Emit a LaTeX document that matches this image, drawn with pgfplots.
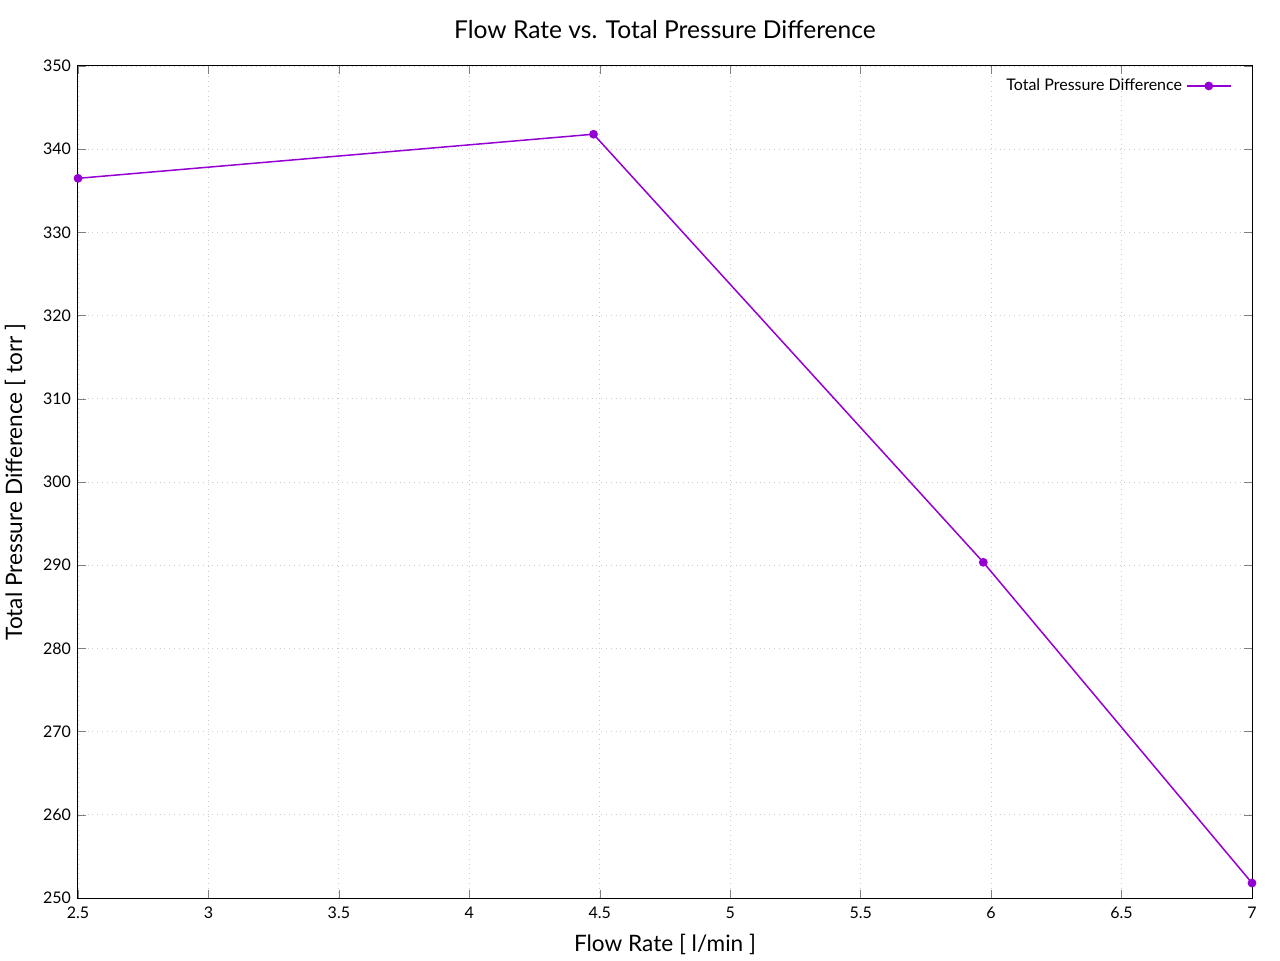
\documentclass[border=0pt]{standalone}
\usepackage{fontspec}
\setmainfont{Lato}
\usepackage{pgfplots}
\pgfplotsset{compat=1.18}
\definecolor{gpviolet}{HTML}{9400D3}
\begin{document}
\begin{tikzpicture}[x=1pt,y=1pt]
\path[use as bounding box] (0,0) rectangle (640,480);
\begin{axis}[
  at={(39pt,31pt)}, anchor=south west,
  scale only axis, width=587pt, height=416pt,
  xmin=2.5, xmax=7, ymin=250, ymax=350,
  xtick={2.5,3,...,7}, ytick={250,260,...,350},
  tick align=inside, major tick length=4pt,
  xtick pos=both, ytick pos=both,
  xticklabel pos=bottom, yticklabel pos=left,
  /pgf/number format/assume math mode=true,
  /pgf/number format/.cd, fixed, use period, 1000 sep={},
  /pgfplots/.cd,
  ticklabel style={font=\fontsize{8}{9.5}\selectfont},
  xticklabel style={yshift=-1pt},
  grid=major,
  major grid style={gray!40, dotted, line width=0.4pt},
  axis line style={black, line width=0.5pt},
  title={Flow Rate vs. Total Pressure Difference},
  title style={font=\fontsize{12.3}{14}\selectfont, yshift=4pt},
  xlabel={Flow Rate [ l/min ]},
  ylabel={Total Pressure Difference [ torr ]},
  label style={font=\fontsize{11.3}{13}\selectfont},
  xlabel style={yshift=-1pt},
  ylabel style={yshift=2pt},
  legend plot pos=right,
  legend cell align=right,
  legend image code/.code={\draw[mark repeat=2,mark phase=2,#1] plot coordinates {(0pt,0pt)(11pt,0pt)(22pt,0pt)};},
  legend style={draw=none, fill=none, font=\fontsize{8}{9.5}\selectfont, at={(0.988,0.995)}, anchor=north east},
]
\addplot[color=gpviolet, line width=0.75pt, mark=*, mark size=1.8pt] coordinates {
  (2.5, 336.5)
  (4.476, 341.8)
  (5.970, 290.35)
  (7.0, 251.8)
};
\addlegendentry{Total Pressure Difference}
\end{axis}
\end{tikzpicture}
\end{document}
